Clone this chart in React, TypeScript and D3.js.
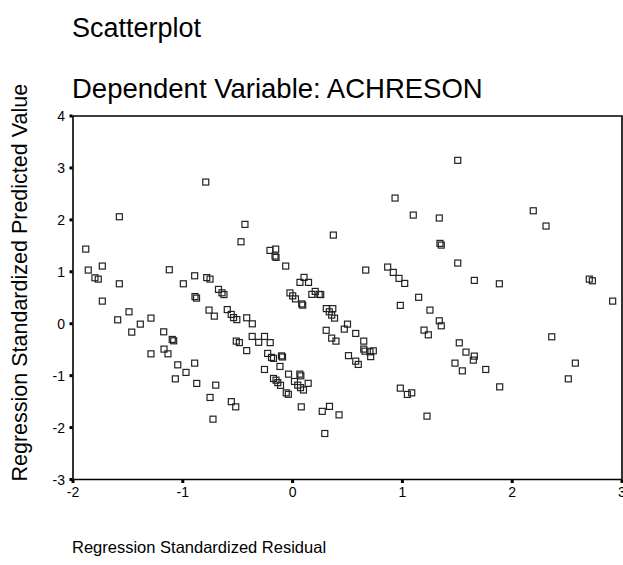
import React from "react";
import * as d3 from "d3";

const residuals: number[] = [
  -1.578, -1.884, -1.861, -1.733, -1.8, -1.77, -1.578, -1.123, -0.995, -0.892,
  -1.733, -0.889, -0.875, -1.593, -1.49, -1.465, -1.387, -1.29, -1.174, -1.096,
  -1.083, -1.29, -1.171, -1.135, -1.046, -0.892, -0.971, -1.068, -0.873, -0.791,
  -0.782, -0.752, -0.675, -0.643, -0.625, -0.761, -0.713, -0.595, -0.559, -0.538,
  -0.508, -0.418, -0.367, -0.513, -0.485, -0.418, -0.368, -0.309, -0.256, -0.204,
  -0.227, -0.192, -0.174, -0.101, -0.092, -0.115, -0.256, -0.7, -0.752, -0.558,
  -0.518, -0.725, -0.434, -0.47, -0.206, -0.154, -0.16, -0.151, -0.063, 0.104,
  0.067, 0.145, -0.024, 0.001, 0.026, 0.083, 0.092, 0.175, 0.206, 0.242,
  -0.174, -0.151, -0.135, -0.11, -0.037, -0.058, -0.039, 0.017, 0.047, 0.072,
  0.099, 0.066, 0.075, 0.142, 0.079, 0.27, 0.336, 0.423, 0.293, 0.256,
  0.307, 0.334, 0.366, 0.356, 0.382, 0.306, 0.356, 0.395, 0.471, 0.5,
  0.575, 0.648, 0.648, 0.659, 0.705, 0.735, 0.711, 0.509, 0.575, 0.598,
  0.371, 0.666, 0.866, 0.917, 0.969, 1.021, 0.933, 1.099, 1.336, 1.342,
  1.354, 1.504, 1.504, 1.148, 0.981, 1.251, 1.336, 1.354, 1.197, 1.236,
  1.518, 1.579, 1.479, 1.546, 0.981, 1.045, 1.085, 1.224, 1.655, 1.646,
  1.759, 1.886, 1.655, 1.883, 2.192, 2.308, 2.702, 2.73, 2.915, 2.36,
  2.575, 2.511,
];

const predicted: number[] = [
  2.06, 1.437, 1.033, 1.11, 0.884, 0.859, 0.769, 1.039, 0.769, 0.923,
  0.435, 0.522, 0.493, 0.075, 0.229, -0.162, -0.008, 0.108, -0.156, -0.303,
  -0.329, -0.58, -0.489, -0.58, -0.792, -0.759, -0.938, -1.062, -1.15, 2.728,
  0.888, 0.859, 0.661, 0.595, 0.561, 0.262, 0.146, 0.272, 0.179, 0.118,
  0.079, 0.114, -0.002, -0.335, -0.364, -0.518, -0.245, -0.358, -0.245, -0.364,
  -0.572, -0.649, -0.667, -0.62, -0.64, -0.823, -0.881, -1.183, -1.42, -1.501,
  -1.601, -1.838, 1.913, 1.578, 1.412, 1.437, 1.303, 1.277, 1.11, 0.892,
  0.796, 0.796, 0.593, 0.536, 0.478, 0.381, 0.358, 0.565, 0.622, 0.565,
  -1.054, -1.087, -1.135, -1.187, -0.971, -1.331, -1.36, -1.112, -1.183, -1.231,
  -1.276, -0.971, -1.004, -1.148, -1.601, -1.688, -1.592, -1.755, -2.114, 0.561,
  0.291, 0.229, 0.291, 0.166, 0.108, -0.127, -0.277, -0.335, -0.104, -0.008,
  -0.187, -0.335, -0.489, -0.528, -0.541, -0.522, -0.634, -0.615, -0.721, -0.784,
  1.707, 1.033, 1.091, 0.988, 0.873, 0.776, 2.42, 2.092, 2.035, 1.547,
  1.514, 3.146, 1.168, 0.509, 0.353, 0.262, 0.056, -0.04, -0.123, -0.214,
  -0.368, -0.547, -0.759, -0.908, -1.241, -1.362, -1.331, -1.78, -0.624, -0.701,
  -0.881, -1.216, 0.834, 0.769, 2.175, 1.881, 0.859, 0.827, 0.435, -0.252,
  -0.759, -1.062,
];

const xTicks: number[] = [-2, -1, 0, 1, 2, 3];
const yTicks: number[] = [4, 3, 2, 1, 0, -1, -2, -3];

const title1 = "Scatterplot";
const title2 = "Dependent Variable: ACHRESON";
const xTitle = "Regression Standardized Residual";
const yTitle = "Regression Standardized Predicted Value";

const W = 623;
const H = 565;
const left = 73;
const right = 622;
const top = 116;
const bottom = 479.5;
const font = "'Liberation Sans', Arial, Helvetica, sans-serif";

export default function App() {
  const x = d3.scaleLinear().domain([-2, 3]).range([left, right]);
  const y = d3.scaleLinear().domain([-3, 4]).range([bottom, top]);
  const pts = residuals.map((r, i) => ({ r, p: predicted[i] }));
  const s = 6;
  return (
    <svg
      width={W}
      height={H}
      style={{ position: "absolute", left: 0, top: 0, background: "#fff" }}
      fontFamily={font}
    >
      <text x={72} y={37} fontSize={27} fill="#000">{title1}</text>
      <text x={72} y={98} fontSize={27.5} fill="#000">{title2}</text>
      <path
        d={`M${left},${top}H${right}V${bottom}H${left}Z`}
        fill="none"
        stroke="#000"
        strokeWidth={1.6}
      />
      {yTicks.map((t) => (
        <g key={"y" + t}>
          <rect x={left - 3.5} y={y(t) - 1.5} width={3} height={3} fill="#000" />
          <text x={left - 8} y={y(t) + 5} fontSize={14} textAnchor="end" fill="#000">
            {t}
          </text>
        </g>
      ))}
      {xTicks.map((t) => (
        <g key={"x" + t}>
          <rect x={x(t) - 1.5} y={bottom + 0.5} width={3} height={3} fill="#000" />
          <text x={x(t)} y={bottom + 17} fontSize={14} textAnchor="middle" fill="#000">
            {t}
          </text>
        </g>
      ))}
      <text x={72} y={553} fontSize={16.5} fill="#000">{xTitle}</text>
      <text
        transform={`translate(27,${bottom + 2}) rotate(-90)`}
        fontSize={21.5}
        fill="#000"
      >
        {yTitle}
      </text>
      {pts.map((d, i) => (
        <rect
          key={i}
          x={x(d.r) - s / 2}
          y={y(d.p) - s / 2}
          width={s}
          height={s}
          fill="none"
          stroke="#222"
          strokeWidth={1.2}
        />
      ))}
    </svg>
  );
}
